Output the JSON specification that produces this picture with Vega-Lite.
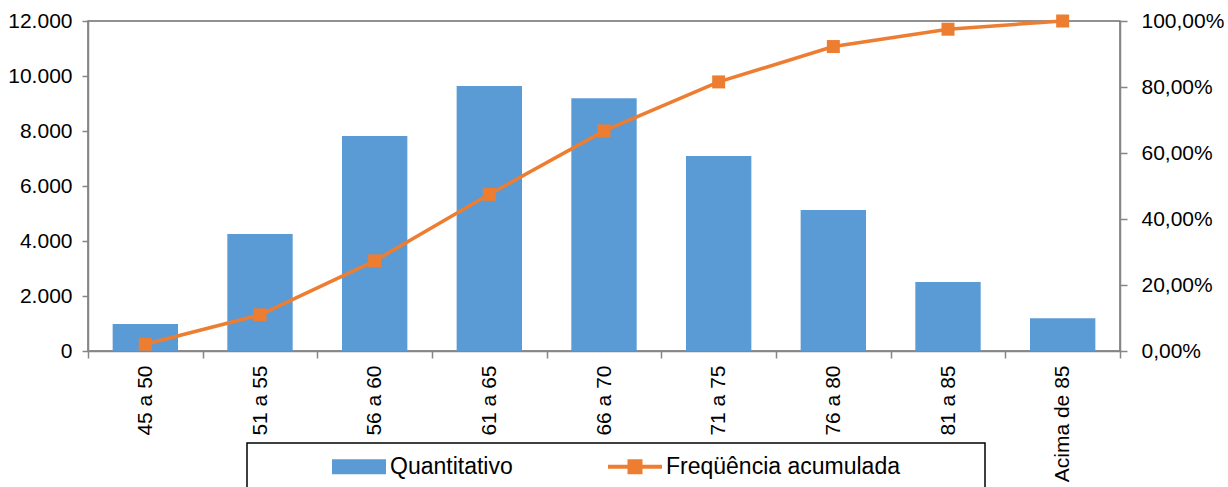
{
  "$schema": "https://vega.github.io/schema/vega-lite/v6.json",
  "autosize": {"type": "none"},
  "width": 1032,
  "height": 330,
  "padding": {"left": 88, "top": 21, "right": 108, "bottom": 136},
  "background": "#ffffff",
  "config": {
    "locale": {"number": {"decimal": ",", "thousands": ".", "grouping": [3], "currency": ["R$", ""]}},
    "view": {"stroke": "#6e6e6e", "strokeWidth": 1.5},
    "axis": {
      "labelFont": "Liberation Sans",
      "labelFontSize": 21,
      "labelColor": "#000000",
      "domainColor": "#868686",
      "domainWidth": 1.5,
      "tickColor": "#868686",
      "tickWidth": 1.5,
      "tickSize": 7,
      "grid": false,
      "title": null
    }
  },
  "data": {
    "values": [
      {"faixa": "45 a 50", "quantitativo": 980, "freq": 0.0205},
      {"faixa": "51 a 55", "quantitativo": 4255, "freq": 0.1095},
      {"faixa": "56 a 60", "quantitativo": 7818, "freq": 0.2731},
      {"faixa": "61 a 65", "quantitativo": 9636, "freq": 0.4747},
      {"faixa": "66 a 70", "quantitativo": 9189, "freq": 0.6670},
      {"faixa": "71 a 75", "quantitativo": 7091, "freq": 0.8154},
      {"faixa": "76 a 80", "quantitativo": 5127, "freq": 0.9226},
      {"faixa": "81 a 85", "quantitativo": 2509, "freq": 0.9751},
      {"faixa": "Acima de 85", "quantitativo": 1188, "freq": 1.0}
    ]
  },
  "encoding": {
    "x": {
      "field": "faixa",
      "type": "nominal",
      "sort": null,
      "scale": {"type": "band", "paddingInner": 0, "paddingOuter": 0},
      "axis": {"labelAngle": -90, "labelPadding": 7, "tickBand": "extent", "title": null}
    }
  },
  "layer": [
    {
      "mark": {"type": "bar", "width": {"band": 0.57}},
      "encoding": {
        "y": {
          "field": "quantitativo",
          "type": "quantitative",
          "scale": {"domain": [0, 12000], "nice": false},
          "axis": {"values": [0, 2000, 4000, 6000, 8000, 10000, 12000], "format": ",.0f", "labelPadding": 10, "tickSize": 6, "title": null}
        },
        "color": {
          "datum": "Quantitativo",
          "type": "nominal",
          "scale": {"domain": ["Quantitativo", "Freqüência acumulada"], "range": ["#5B9BD5", "#ED7D31"]},
          "legend": {
            "orient": "none",
            "legendX": 159,
            "legendY": 422,
            "direction": "horizontal",
            "columns": 2,
            "padding": 13,
            "clipHeight": 21,
            "symbolOffset": 72,
            "labelOffset": 4,
            "columnPadding": 23,
            "labelFont": "Liberation Sans",
            "labelFontSize": 23,
            "labelColor": "#000000",
            "labelLimit": 0,
            "title": "MMMM",
            "titleOrient": "right",
            "titleFont": "Liberation Sans",
            "titleFontSize": 20,
            "titleColor": "#ffffff",
            "titleOpacity": 0,
            "titlePadding": 5,
            "strokeColor": "#000000",
            "encode": {
              "legend": {"update": {"stroke": {"value": "#000000"}, "strokeWidth": {"value": 1.5}}},
              "symbols": {
                "update": {
                  "shape": {"signal": "datum.value == 'Quantitativo' ? 'M-1,-0.278H1V0.278H-1Z' : 'M-1,-0.074H-0.278V-0.278H0.278V-0.074H1V0.074H0.278V0.278H-0.278V0.074H-1Z'"},
                  "size": {"value": 2916},
                  "fill": {"signal": "datum.value == 'Quantitativo' ? '#5B9BD5' : '#ED7D31'"},
                  "stroke": {"value": "transparent"},
                  "strokeWidth": {"value": 0},
                  "opacity": {"value": 1}
                }
              }
            }
          }
        }
      }
    },
    {
      "mark": {"type": "line", "strokeWidth": 3.5, "point": {"shape": "square", "size": 169, "filled": true, "opacity": 1}},
      "encoding": {
        "y": {
          "field": "freq",
          "type": "quantitative",
          "scale": {"domain": [0, 1], "nice": false},
          "axis": {"orient": "right", "values": [0, 0.2, 0.4, 0.6, 0.8, 1], "format": ".2%", "labelPadding": 14, "title": null}
        },
        "color": {"datum": "Freqüência acumulada", "type": "nominal"}
      }
    }
  ],
  "resolve": {"scale": {"y": "independent"}}
}
